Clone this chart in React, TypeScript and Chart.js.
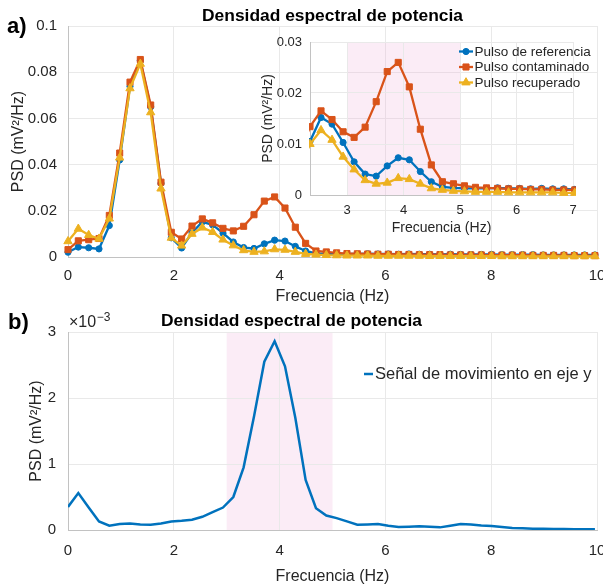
import React, { useEffect, useRef } from 'react';
import { Chart, registerables } from 'chart.js';
Chart.register(...registerables);

// ---------------- data ----------------
const freqHz = [
  0, 0.195, 0.391, 0.586, 0.781, 0.977, 1.172, 1.367, 1.563, 1.758,
  1.953, 2.148, 2.344, 2.539, 2.734, 2.93, 3.125, 3.32, 3.516, 3.711,
  3.906, 4.102, 4.297, 4.492, 4.688, 4.883, 5.078, 5.273, 5.469, 5.664,
  5.859, 6.055, 6.25, 6.445, 6.641, 6.836, 7.031, 7.227, 7.422, 7.617,
  7.813, 8.008, 8.203, 8.398, 8.594, 8.789, 8.984, 9.18, 9.375, 9.57,
  9.766, 9.961,
];

const pulsoReferencia = [
  0.0021, 0.0043, 0.0040, 0.0035, 0.0136, 0.0420, 0.0739, 0.0850, 0.0650, 0.0319,
  0.0083, 0.0039, 0.0105, 0.0152, 0.0139, 0.0103, 0.0065, 0.0041, 0.0037, 0.0057,
  0.0073, 0.0069, 0.0046, 0.0026, 0.0016, 0.0014, 0.0013, 0.0013, 0.0013, 0.0014,
  0.0013, 0.0013, 0.0012, 0.0013, 0.0012, 0.0012, 0.0011, 0.0012, 0.0011, 0.0011,
  0.0011, 0.0011, 0.0010, 0.0010, 0.0010, 0.0010, 0.0009, 0.0009, 0.0009, 0.0009,
  0.0009, 0.0009,
];

const pulsoContaminado = [
  0.0032, 0.0070, 0.0075, 0.0080, 0.0180, 0.0450, 0.0757, 0.0855, 0.0658, 0.0324,
  0.0107, 0.0078, 0.0134, 0.0165, 0.0148, 0.0124, 0.0113, 0.0133, 0.0183, 0.0242,
  0.0260, 0.0212, 0.0129, 0.0059, 0.0026, 0.0022, 0.0018, 0.0015, 0.0014, 0.0013,
  0.0012, 0.0012, 0.0011, 0.0011, 0.0010, 0.0010, 0.0010, 0.0009, 0.0009, 0.0009,
  0.0009, 0.0008, 0.0008, 0.0008, 0.0008, 0.0007, 0.0007, 0.0007, 0.0007, 0.0006,
  0.0006, 0.0006,
];

const pulsoRecuperado = [
  0.0068, 0.0122, 0.0095, 0.0079, 0.0166, 0.0430, 0.0730, 0.0836, 0.0626, 0.0296,
  0.0083, 0.0049, 0.0100, 0.0127, 0.0108, 0.0075, 0.0050, 0.0029, 0.0022, 0.0024,
  0.0033, 0.0031, 0.0022, 0.0013, 0.0010, 0.0008, 0.0007, 0.0006, 0.0006, 0.0006,
  0.0005, 0.0005, 0.0005, 0.0005, 0.0005, 0.0004, 0.0004, 0.0004, 0.0004, 0.0004,
  0.0004, 0.0004, 0.0003, 0.0003, 0.0003, 0.0003, 0.0003, 0.0003, 0.0003, 0.0003,
  0.0003, 0.0003,
];

// PSD of the y-axis motion signal, in units of 1e-3 mV^2/Hz
const movimientoEjeY = [
  0.35, 0.56, 0.34, 0.13, 0.065, 0.09, 0.10, 0.085, 0.08, 0.10,
  0.13, 0.14, 0.155, 0.20, 0.27, 0.34, 0.50, 0.95, 1.72, 2.55,
  2.86, 2.48, 1.70, 0.76, 0.33, 0.22, 0.18, 0.13, 0.08, 0.085,
  0.09, 0.065, 0.045, 0.05, 0.055, 0.05, 0.04, 0.065, 0.09, 0.085,
  0.07, 0.06, 0.045, 0.03, 0.025, 0.02, 0.02, 0.015, 0.015, 0.01,
  0.01, 0.01,
];

const seriesNames = ['Pulso de referencia', 'Pulso contaminado', 'Pulso recuperado'];
const legendB = 'Señal de movimiento en eje y';
const titleText = 'Densidad espectral de potencia';
const xTitle = 'Frecuencia (Hz)';
const yTitle = 'PSD (mV²/Hz)';

const xTicksMain = [0, 2, 4, 6, 8, 10];
const xTickLabelsMain = ['0', '2', '4', '6', '8', '10'];
const yTicksA = [0, 0.02, 0.04, 0.06, 0.08, 0.1];
const yTickLabelsA = ['0', '0.02', '0.04', '0.06', '0.08', '0.1'];
const xTicksInset = [3, 4, 5, 6, 7];
const xTickLabelsInset = ['3', '4', '5', '6', '7'];
const yTicksInset = [0, 0.01, 0.02, 0.03];
const yTickLabelsInset = ['0', '0.01', '0.02', '0.03'];
const yTicksB = [0, 1, 2, 3];
const yTickLabelsB = ['0', '1', '2', '3'];
const insetRange = [2.344, 7];
const shadeBand = [3, 5];

// ---------------- styles ----------------
const FONT = '"Liberation Sans", Arial, Helvetica, sans-serif';
const C_BLUE = '#0072BD';
const C_ORANGE = '#D95319';
const C_YELLOW = '#EDB120';
const GRID = '#e9e9e9';
const AXIS = '#c2c2c2';
const TXT = '#262626';
const SHADE = 'rgba(236,170,215,0.22)';

const seriesStyle = [
  { color: C_BLUE, style: 'circle', r: 3.1, order: 3 },
  { color: C_ORANGE, style: 'rect', r: 4.3, order: 2 },
  { color: C_YELLOW, style: 'triangle', r: 4.8, order: 1 },
];
const seriesData = [pulsoReferencia, pulsoContaminado, pulsoRecuperado];

const pts = (ys: number[]) => freqHz.map((f, i) => ({ x: f, y: ys[i] }));

function makeX(min: number, max: number, vals: number[], labels: string[], boxH: number,
  tickSize: number, tickPad: number, titleSize: number, titlePadB: number) {
  return {
    type: 'linear', position: 'bottom', min, max,
    afterBuildTicks: (s: any) => { s.ticks = vals.map((v) => ({ value: v })); },
    afterFit: (s: any) => { s.height = boxH; s.paddingLeft = 0; s.paddingRight = 0; },
    ticks: {
      font: { family: FONT, size: tickSize }, color: TXT, padding: tickPad,
      maxRotation: 0, autoSkip: false, callback: (_v: any, i: number) => labels[i],
    },
    grid: { color: GRID, drawTicks: false, lineWidth: 1 },
    border: { color: AXIS, width: 1 },
    title: {
      display: true, text: xTitle, color: TXT,
      font: { family: FONT, size: titleSize }, padding: { top: 0, bottom: titlePadB },
    },
  };
}

function makeY(min: number, max: number, vals: number[], labels: string[], boxW: number,
  tickSize: number, tickPad: number, titleSize: number, titlePadT: number) {
  return {
    type: 'linear', position: 'left', min, max,
    afterBuildTicks: (s: any) => { s.ticks = vals.map((v) => ({ value: v })); },
    afterFit: (s: any) => { s.width = boxW; s.paddingTop = 0; s.paddingBottom = 0; },
    ticks: {
      font: { family: FONT, size: tickSize }, color: TXT, padding: tickPad,
      autoSkip: false, callback: (_v: any, i: number) => labels[i],
    },
    grid: { color: GRID, drawTicks: false, lineWidth: 1 },
    border: { color: AXIS, width: 1 },
    title: {
      display: true, text: yTitle, color: TXT,
      font: { family: FONT, size: titleSize }, padding: { top: titlePadT, bottom: 0 },
    },
  };
}

function drawMarker(ctx: CanvasRenderingContext2D, style: string, x: number, y: number, r: number, color: string) {
  ctx.save();
  ctx.fillStyle = color;
  ctx.strokeStyle = color;
  ctx.lineWidth = 1;
  ctx.beginPath();
  if (style === 'circle') {
    ctx.arc(x, y, r, 0, Math.PI * 2);
  } else if (style === 'rect') {
    const s = r * Math.SQRT1_2;
    ctx.rect(x - s, y - s, 2 * s, 2 * s);
  } else {
    let rad = 0;
    ctx.moveTo(x + Math.sin(rad) * r, y - Math.cos(rad) * r);
    rad += (2 * Math.PI) / 3;
    ctx.lineTo(x + Math.sin(rad) * r, y - Math.cos(rad) * r);
    rad += (2 * Math.PI) / 3;
    ctx.lineTo(x + Math.sin(rad) * r, y - Math.cos(rad) * r);
    ctx.closePath();
  }
  ctx.fill();
  ctx.stroke();
  ctx.restore();
}

function shadePlugin(id: string) {
  return {
    id,
    beforeDraw(chart: any) {
      const { ctx, chartArea } = chart;
      const xs = chart.scales.x;
      const x0 = xs.getPixelForValue(shadeBand[0]);
      const x1 = xs.getPixelForValue(shadeBand[1]);
      ctx.save();
      ctx.fillStyle = SHADE;
      ctx.fillRect(x0, chartArea.top, x1 - x0, chartArea.bottom - chartArea.top);
      ctx.restore();
    },
  };
}

function lineDatasets() {
  return seriesData.map((d, i) => {
    const st = seriesStyle[i];
    return {
      label: seriesNames[i],
      data: pts(d),
      borderColor: st.color,
      backgroundColor: st.color,
      borderWidth: 2.3,
      pointStyle: st.style,
      pointRadius: st.r,
      pointBorderWidth: 1,
      pointBackgroundColor: st.color,
      pointBorderColor: st.color,
      tension: 0,
      order: st.order,
      clip: 8,
    };
  });
}

const baseOpts = {
  responsive: false,
  maintainAspectRatio: false,
  animation: false,
  devicePixelRatio: 1,
  events: [],
  plugins: { legend: { display: false }, tooltip: { enabled: false }, title: { display: false } },
};

export default function App() {
  const refA = useRef<HTMLCanvasElement>(null);
  const refI = useRef<HTMLCanvasElement>(null);
  const refB = useRef<HTMLCanvasElement>(null);

  useEffect(() => {
    const charts: Chart[] = [];

    // ---------- panel a (main) ----------
    const chartA = new Chart(refA.current as HTMLCanvasElement, {
      type: 'line',
      data: { datasets: lineDatasets() as any },
      options: {
        ...baseOpts,
        layout: { padding: { left: 0, top: 26, right: 6, bottom: 0 } },
        scales: {
          x: makeX(0, 10, xTicksMain, xTickLabelsMain, 53, 15, 10, 16, 3.4) as any,
          y: makeY(0, 0.1, yTicksA, yTickLabelsA, 68, 15, 11, 16, 9.2) as any,
        },
      } as any,
      plugins: [{
        id: 'labelsA',
        afterDraw(chart: any) {
          const { ctx, chartArea } = chart;
          ctx.save();
          ctx.fillStyle = '#000';
          ctx.textBaseline = 'alphabetic';
          ctx.font = `bold 22px ${FONT}`;
          ctx.textAlign = 'left';
          ctx.fillText('a)', 7, 32.5);
          ctx.font = `bold 17.4px ${FONT}`;
          ctx.textAlign = 'center';
          ctx.fillText(titleText, (chartArea.left + chartArea.right) / 2, 21);
          ctx.restore();
        },
      }],
    });
    charts.push(chartA);

    // ---------- inset ----------
    const chartI = new Chart(refI.current as HTMLCanvasElement, {
      type: 'line',
      data: { datasets: lineDatasets().map((d) => ({ ...d, clip: { left: 1, top: 6, right: 3, bottom: 6 } })) as any },
      options: {
        ...baseOpts,
        layout: { padding: { left: 0, top: 12, right: 30, bottom: 0 } },
        scales: {
          x: makeX(insetRange[0], insetRange[1], xTicksInset, xTickLabelsInset, 50, 13, 8, 14, 8.6) as any,
          y: makeY(0, 0.03, yTicksInset, yTickLabelsInset, 70, 13, 8, 14, 19.4) as any,
        },
      } as any,
      plugins: [shadePlugin('shadeI'), {
        id: 'legendI',
        afterDraw(chart: any) {
          const { ctx, chartArea } = chart;
          const lx0 = chartArea.right - 114;
          const rows = [chartArea.top + 9.5, chartArea.top + 25, chartArea.top + 40.5];
          ctx.save();
          ctx.font = `13.5px ${FONT}`;
          ctx.textBaseline = 'middle';
          ctx.textAlign = 'left';
          rows.forEach((y, i) => {
            const st = seriesStyle[i];
            ctx.strokeStyle = st.color;
            ctx.lineWidth = 2.3;
            ctx.beginPath();
            ctx.moveTo(lx0, y);
            ctx.lineTo(lx0 + 14, y);
            ctx.stroke();
            drawMarker(ctx, st.style, lx0 + 7, y, st.r, st.color);
            ctx.fillStyle = TXT;
            ctx.fillText(seriesNames[i], lx0 + 15.5, y + 0.5);
          });
          ctx.restore();
        },
      }],
    });
    charts.push(chartI);

    // ---------- panel b ----------
    const chartB = new Chart(refB.current as HTMLCanvasElement, {
      type: 'line',
      data: {
        datasets: [{
          label: legendB,
          data: pts(movimientoEjeY),
          borderColor: C_BLUE,
          backgroundColor: C_BLUE,
          borderWidth: 2.5,
          pointRadius: 0,
          tension: 0,
        }] as any,
      },
      options: {
        ...baseOpts,
        layout: { padding: { left: 0, top: 32, right: 6, bottom: 0 } },
        scales: {
          x: makeX(0, 10, xTicksMain, xTickLabelsMain, 57, 15, 11.5, 16, 1.1) as any,
          y: makeY(0, 3, yTicksB, yTickLabelsB, 68, 15, 12, 16, 26.6) as any,
        },
      } as any,
      plugins: [shadePlugin('shadeB'), {
        id: 'labelsB',
        afterDraw(chart: any) {
          const { ctx, chartArea } = chart;
          ctx.save();
          ctx.fillStyle = '#000';
          ctx.textBaseline = 'alphabetic';
          ctx.textAlign = 'left';
          ctx.font = `bold 22px ${FONT}`;
          ctx.fillText('b)', 8, 28.5);
          ctx.font = `bold 17.4px ${FONT}`;
          ctx.textAlign = 'center';
          ctx.fillText(titleText, (chartArea.left + chartArea.right) / 2 - 41, 26);
          // exponent label
          ctx.textAlign = 'left';
          ctx.fillStyle = TXT;
          ctx.font = `16px ${FONT}`;
          const base = '×10';
          ctx.fillText(base, chartArea.left + 1, 26.5);
          const w = ctx.measureText(base).width;
          ctx.font = `12px ${FONT}`;
          ctx.fillText('−3', chartArea.left + 1 + w + 0.5, 21);
          // legend
          const ly = chartArea.top + 42;
          const lx = chartArea.right - 233;
          ctx.strokeStyle = C_BLUE;
          ctx.lineWidth = 2.5;
          ctx.beginPath();
          ctx.moveTo(lx, ly);
          ctx.lineTo(lx + 9, ly);
          ctx.stroke();
          ctx.font = `16.5px ${FONT}`;
          ctx.textBaseline = 'middle';
          ctx.fillStyle = TXT;
          ctx.fillText(legendB, lx + 11, ly + 0.5);
          ctx.restore();
        },
      }],
    });
    charts.push(chartB);

    return () => charts.forEach((c) => c.destroy());
  }, []);

  return (
    <div style={{ position: 'absolute', left: 0, top: 0, width: 603, height: 587, background: '#fff', overflow: 'hidden' }}>
      <canvas ref={refA} width={603} height={310} style={{ position: 'absolute', left: 0, top: 0, width: 603, height: 310 }} />
      <canvas ref={refB} width={603} height={287} style={{ position: 'absolute', left: 0, top: 300, width: 603, height: 287 }} />
      <canvas ref={refI} width={363} height={215} style={{ position: 'absolute', left: 240, top: 30, width: 363, height: 215 }} />
    </div>
  );
}
